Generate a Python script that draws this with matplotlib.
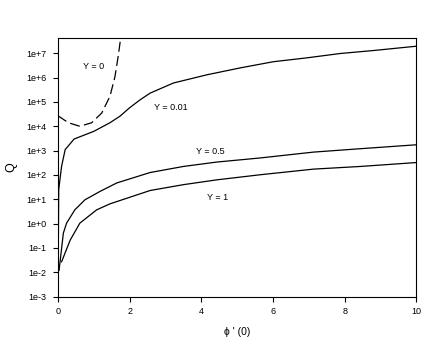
"""Q vs phi'(0) for several Y values (log scale)"""
import matplotlib
matplotlib.use("Agg")
import matplotlib.pyplot as plt
from matplotlib.ticker import FixedLocator, FuncFormatter

plt.rcParams["font.family"] = ["Liberation Sans", "DejaVu Sans"]

# Y = 0 (dashed)
x_y0 = [0.0, 0.29, 0.61, 0.94, 1.22, 1.45, 1.59, 1.68, 1.75, 1.80]
q_y0 = [2.7e4, 1.4e4, 1.0e4, 1.4e4, 3.5e4, 1.7e5, 1.1e6, 7.6e6, 4.3e7, 1.2e8]

# Y = 0.01
x_y001 = [0.0, 0.02, 0.10, 0.20, 0.45, 1.0, 1.45, 1.73, 2.0, 2.3, 2.57, 3.22, 4.15,
          5.08, 6.01, 6.95, 7.88, 8.81, 10.0]
q_y001 = [1e-3, 25, 224, 1100, 3000, 6200, 1.4e4, 2.6e4, 5.8e4, 1.25e5, 2.3e5, 6.0e5, 1.3e6,
          2.5e6, 4.5e6, 6.5e6, 9.8e6, 1.3e7, 1.95e7]

# Y = 0.5
x_y05 = [0.03, 0.15, 0.24, 0.47, 0.75, 1.17, 1.64, 2.57, 3.5, 4.43, 5.64, 7.13, 8.44, 10.0]
q_y05 = [0.012, 0.41, 1.05, 3.7, 9.5, 21, 47, 126, 224, 339, 500, 870, 1200, 1740]

# Y = 1
x_y1 = [0.10, 0.34, 0.61, 1.08, 1.45, 2.57, 3.5, 4.43, 5.64, 7.13, 8.44, 10.0]
q_y1 = [0.027, 0.21, 1.05, 3.7, 6.5, 23, 40, 63, 102, 174, 224, 324]

labels = ["Y = 0", "Y = 0.01", "Y = 0.5", "Y = 1"]
label_pos = [(0.98, 2.8e6), (3.16, 5.9e4), (4.25, 9.0e2), (4.44, 1.15e1)]

ytick_vals = [1e-3, 1e-2, 1e-1, 1e0, 1e1, 1e2, 1e3, 1e4, 1e5, 1e6, 1e7]
ytick_text = ["1e-3", "1e-2", "1e-1", "1e+0", "1e+1", "1e+2", "1e+3", "1e+4",
              "1e+5", "1e+6", "1e+7"]

fig = plt.figure(figsize=(4.36, 3.41), dpi=100)
ax = fig.add_axes([0.133, 0.130, 0.822, 0.759])

ax.plot(x_y0, q_y0, color="black", lw=0.9, dashes=(8, 3.5))
ax.plot(x_y001, q_y001, color="black", lw=0.9)
ax.plot(x_y05, q_y05, color="black", lw=0.9)
ax.plot(x_y1, q_y1, color="black", lw=0.9)

for txt, (lx, ly) in zip(labels, label_pos):
    ax.text(lx, ly, txt, fontsize=6.5, ha="center", va="center")

ax.set_yscale("log")
ax.set_xlim(0, 10)
ax.set_ylim(1e-3, 4.3e7)
ax.set_xticks([0, 2, 4, 6, 8, 10])
ax.yaxis.set_major_locator(FixedLocator(ytick_vals))
ax.yaxis.set_major_formatter(FuncFormatter(lambda v, p: ytick_text[ytick_vals.index(v)] if v in ytick_vals else ""))
ax.yaxis.set_minor_locator(FixedLocator([]))
ax.tick_params(axis="both", direction="out", length=3.5, width=0.8, labelsize=6.5)
ax.tick_params(axis="y", pad=5)
ax.tick_params(axis="x", pad=4)
ax.tick_params(top=False, right=False)
for sp in ax.spines.values():
    sp.set_linewidth(0.8)

ax.set_ylabel("Q", fontsize=9, rotation=90, labelpad=6)
ax.set_xlabel("\u03d5 ' (0)", fontsize=7.5, labelpad=8)

fig.savefig("out.png", dpi=100)
